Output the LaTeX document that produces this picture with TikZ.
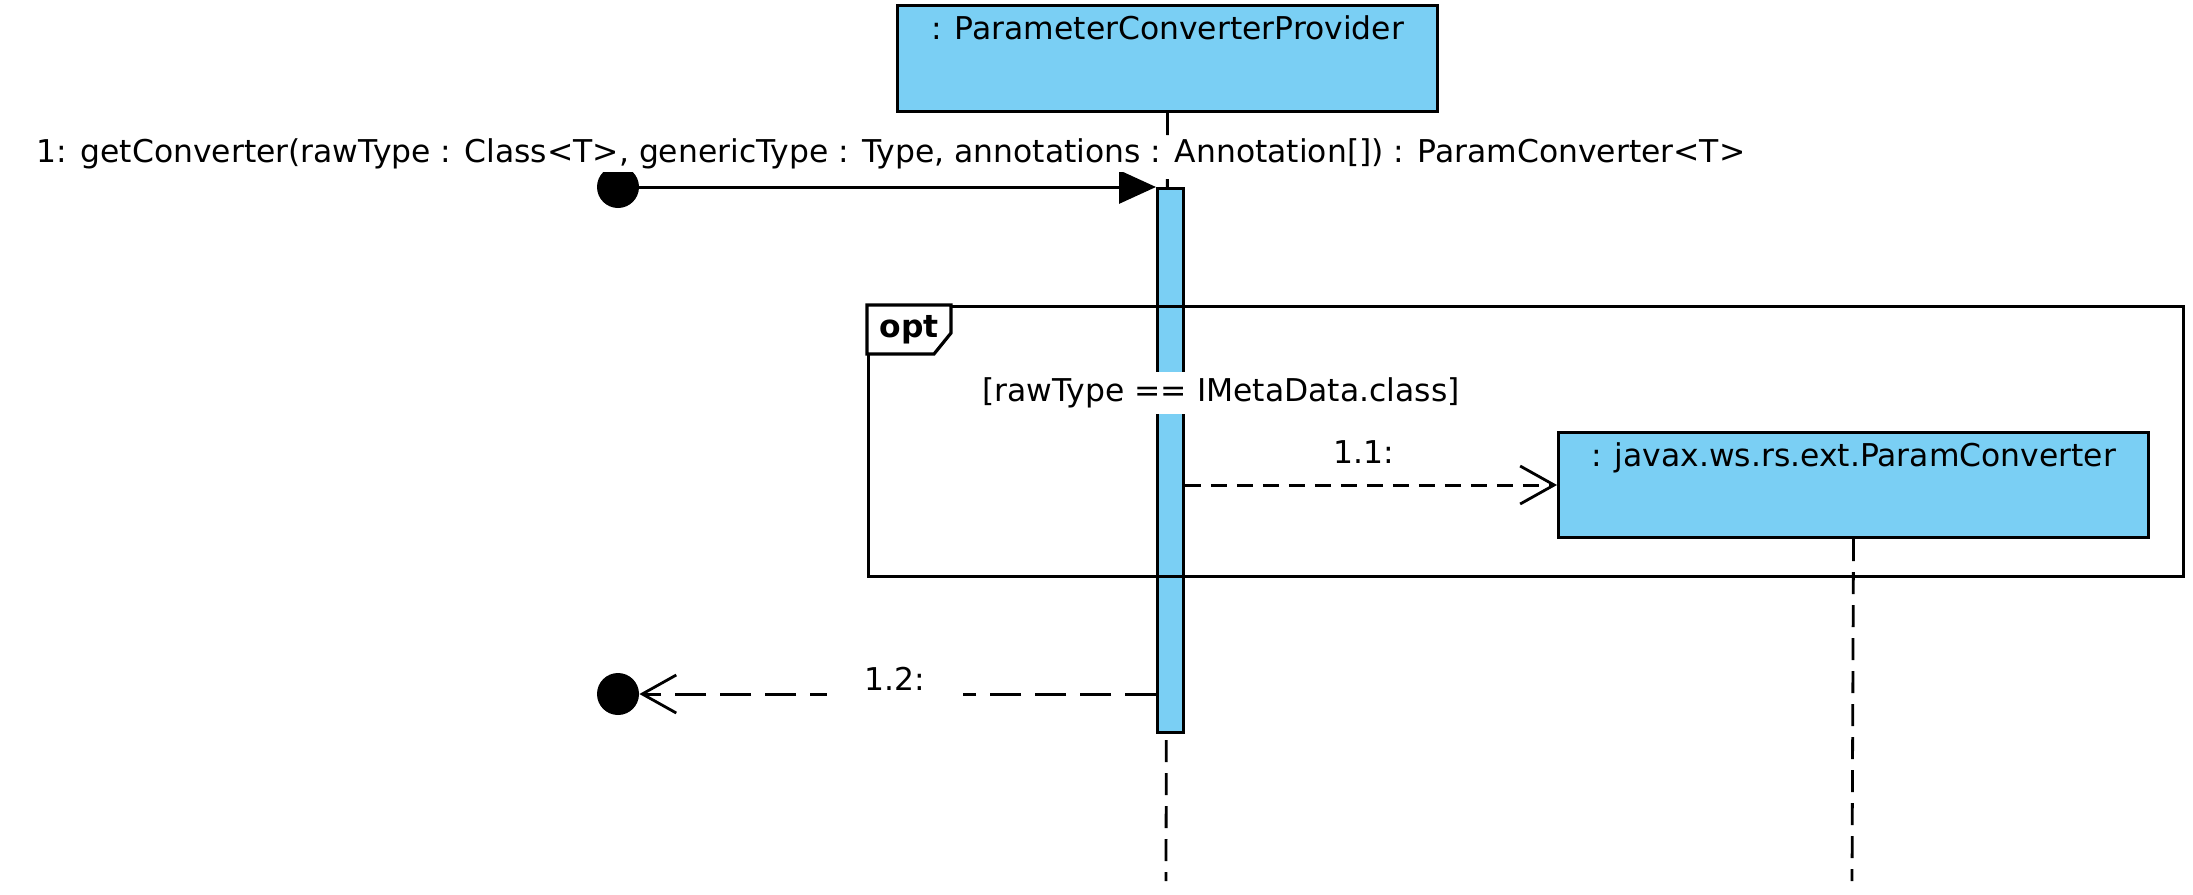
\documentclass[tikz,border=0pt]{standalone}
\usepackage{fontspec}
\setmainfont{DejaVu Sans}
\usetikzlibrary{arrows.meta,shapes.geometric}
\definecolor{objblue}{RGB}{122,207,244}
\begin{document}
\begin{tikzpicture}[x=0.5pt,y=-0.5pt,
  every node/.style={font=\fontsize{15.7}{18}\selectfont},
  objbox/.style={draw=black, fill=objblue, line width=1.5pt, rectangle, anchor=north west, inner sep=0pt},
  objlabel/.style={anchor=north, inner sep=0pt},
  lifeline/.style={line width=1.4pt, dash pattern=on 11pt off 5.5pt},
  actbar/.style={draw=black, fill=objblue, line width=1.4pt, rectangle, anchor=north west, inner sep=0pt, minimum width=13pt, minimum height=272pt},
  msg/.style={line width=1.5pt},
  calldash/.style={dash pattern=on 8pt off 5pt},
  retdash/.style={dash pattern=on 15.5pt off 7pt},
  openhead/.style={-{Straight Barb[length=17pt,width=19pt,line width=1.4pt]}},
  filledhead/.style={-{Triangle[length=18.5pt,width=16.5pt]}},
  gatedot/.style={fill=black, circle, inner sep=0pt, minimum size=21pt},
  frame/.style={draw=black, line width=1.6pt, rectangle, anchor=north west, inner sep=0pt},
  whitelabel/.style={fill=white, inner sep=2pt}
]
\useasboundingbox (0,0) rectangle (2193,894);

% lifeline heads
\node[objbox, minimum width=270pt, minimum height=53pt] (pcp) at (896,4) {};
\node[objlabel] (pcpl) at ([yshift=-5.5pt]pcp.north) {: ParameterConverterProvider};

\coordinate (l1end) at (1166,881);
\coordinate (l2end) at (1852,881);
\draw[lifeline] (pcp.south) -- (l1end);

% activation bar
\node[actbar] (act) at (1156,187) {};

% opt frame
\node[frame, minimum width=657.5pt, minimum height=135pt] (opt) at (867,305) {};
\draw[line width=1.6pt, fill=white] (opt.north west) -- (951,305) -- (951,333) -- (934,354) -- (867,354) -- cycle;
\node[inner sep=0pt, font=\fontsize{15.7}{18}\selectfont\bfseries] (optl) at (909,330) {opt};
\node[whitelabel, inner ysep=3pt] (guard) at (1221,393) {[rawType == IMetaData.class]};

% second object
\node[objbox, minimum width=295pt, minimum height=52.5pt] (pc) at (1557,431) {};
\node[objlabel] (pcl) at ([yshift=-5.5pt]pc.north) {: javax.ws.rs.ext.ParamConverter};
\draw[lifeline] (pc.south) -- (l2end);

% gates
\node[gatedot] (d1) at (618,187) {};
\node[gatedot] (d2) at (618,694) {};

% message 1
\draw[msg, filledhead] (d1.center) -- (act.north west);
\node[whitelabel, inner xsep=1pt, inner ysep=1.5pt] (m1) at (891,154) {1: getConverter(rawType : Class<T>, genericType : Type, annotations : Annotation[]) : ParamConverter<T>};

% message 1.1
\draw[msg, calldash, openhead] (act.east |- pc.west) -- (pc.west);
\node[inner sep=0pt] (m11) at (1364,452) {1.1:};

% message 1.2 (return)
\coordinate (r12) at (act.west |- d2);
\draw[msg, retdash, openhead] (r12) -- (d2.east);
\node[whitelabel, inner xsep=19pt, inner ysep=3pt, text depth=4pt] (m12) at (895,683) {1.2:};
\end{tikzpicture}
\end{document}
